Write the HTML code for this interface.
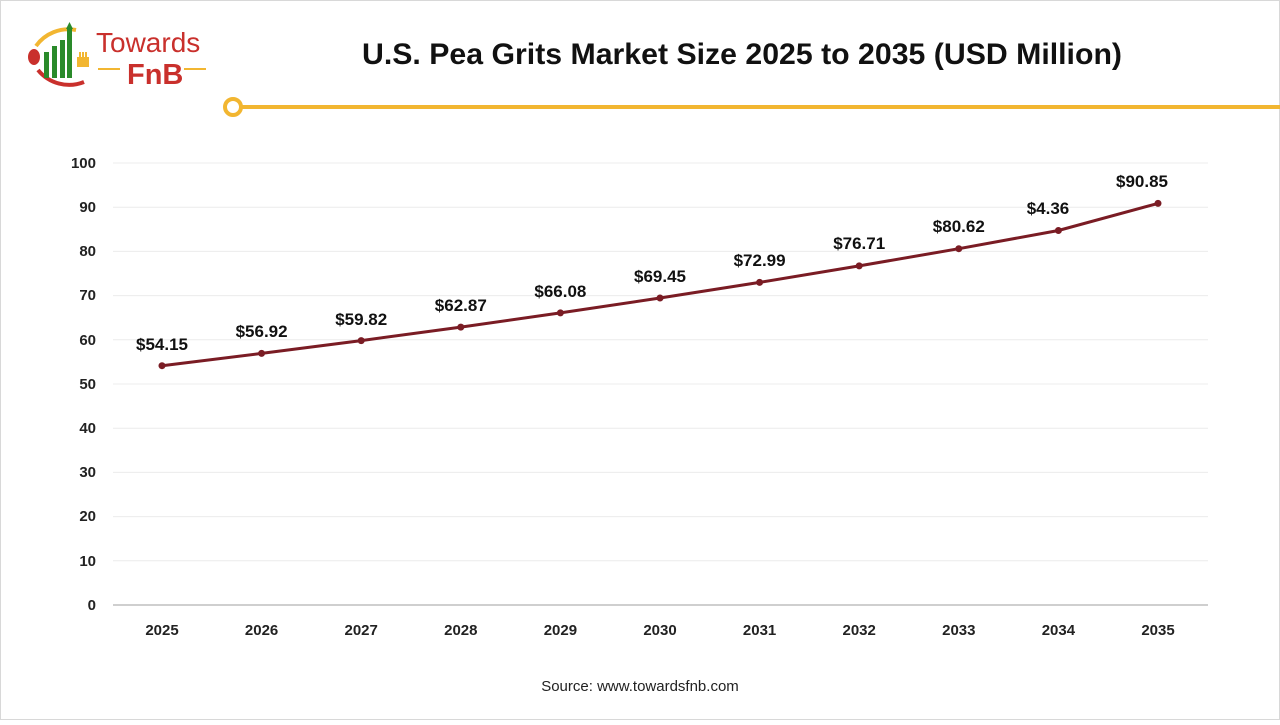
<!DOCTYPE html>
<html><head><meta charset="utf-8"><style>
body{margin:0;width:1280px;height:720px;background:#fff;overflow:hidden;font-family:"Liberation Sans",Arial,sans-serif}
</style></head><body>
<svg width="1280" height="720" viewBox="0 0 1280 720" xmlns="http://www.w3.org/2000/svg" font-family="Liberation Sans, Arial, sans-serif">
<rect x="0.5" y="0.5" width="1279" height="719" fill="#fff" stroke="#d8d8d8"/>
<!-- logo -->
<path d="M38 70 A40 40 0 0 0 84 82" stroke="#c9302c" stroke-width="4" fill="none"/>
<path d="M36 46 A40 40 0 0 1 76 30" stroke="#f2b631" stroke-width="4" fill="none"/>
<ellipse cx="34" cy="57" rx="6" ry="8" fill="#c9302c"/>
<rect x="44" y="52" width="5" height="26" fill="#2a8a2a"/>
<rect x="52" y="46" width="5" height="32" fill="#2a8a2a"/>
<rect x="60" y="40" width="5" height="38" fill="#2a8a2a"/>
<rect x="67" y="28" width="5" height="50" fill="#2a8a2a"/>
<path d="M66 29 L69.5 22 L73 29Z" fill="#2a8a2a"/>
<path d="M78 58 h10 v8 h-10z M80 52 v6 M83 52 v6 M86 52 v6" stroke="#f2b631" stroke-width="2" fill="#f2b631"/>
<text x="96" y="52" font-size="28" fill="#c9302c">Towards</text>
<text x="127" y="84" font-size="29" font-weight="bold" fill="#c9302c">FnB</text>
<line x1="98" y1="69" x2="120" y2="69" stroke="#f2b631" stroke-width="2"/>
<line x1="184" y1="69" x2="206" y2="69" stroke="#f2b631" stroke-width="2"/>
<!-- title -->
<text x="742" y="64" font-size="30" font-weight="bold" text-anchor="middle" fill="#111" textLength="760" lengthAdjust="spacingAndGlyphs">U.S. Pea Grits Market Size 2025 to 2035 (USD Million)</text>
<line x1="242" y1="107" x2="1280" y2="107" stroke="#f2b631" stroke-width="4"/>
<circle cx="233" cy="107" r="8" fill="#fff" stroke="#f2b631" stroke-width="4"/>
<!-- grid -->
<g stroke="#ececec" stroke-width="1">
<line x1="113" y1="163" x2="1208" y2="163"/><line x1="113" y1="207.2" x2="1208" y2="207.2"/>
<line x1="113" y1="251.4" x2="1208" y2="251.4"/><line x1="113" y1="295.6" x2="1208" y2="295.6"/>
<line x1="113" y1="339.8" x2="1208" y2="339.8"/><line x1="113" y1="384" x2="1208" y2="384"/>
<line x1="113" y1="428.2" x2="1208" y2="428.2"/><line x1="113" y1="472.4" x2="1208" y2="472.4"/>
<line x1="113" y1="516.6" x2="1208" y2="516.6"/><line x1="113" y1="560.8" x2="1208" y2="560.8"/>
</g>
<line x1="113" y1="605" x2="1208" y2="605" stroke="#bfbfbf" stroke-width="1.5"/>
<g font-size="15" font-weight="bold" fill="#222" text-anchor="end">
<text x="96" y="168">100</text><text x="96" y="212">90</text><text x="96" y="256">80</text>
<text x="96" y="300">70</text><text x="96" y="345">60</text><text x="96" y="389">50</text>
<text x="96" y="433">40</text><text x="96" y="477">30</text><text x="96" y="521">20</text>
<text x="96" y="566">10</text><text x="96" y="610">0</text>
</g>
<g font-size="15" font-weight="bold" fill="#222" text-anchor="middle">
<text x="162" y="635">2025</text><text x="261.6" y="635">2026</text><text x="361.2" y="635">2027</text>
<text x="460.8" y="635">2028</text><text x="560.4" y="635">2029</text><text x="660" y="635">2030</text>
<text x="759.6" y="635">2031</text><text x="859.2" y="635">2032</text><text x="958.8" y="635">2033</text>
<text x="1058.4" y="635">2034</text><text x="1158" y="635">2035</text>
</g>
<polyline fill="none" stroke="#7a1c24" stroke-width="3" points="162,365.7 261.6,353.4 361.2,340.6 460.8,327.1 560.4,312.9 660,298 759.6,282.4 859.2,265.9 958.8,248.7 1058.4,230.5 1158,203.4"/>
<g fill="#7a1c24">
<circle cx="162" cy="365.7" r="3.5"/><circle cx="261.6" cy="353.4" r="3.5"/><circle cx="361.2" cy="340.6" r="3.5"/>
<circle cx="460.8" cy="327.1" r="3.5"/><circle cx="560.4" cy="312.9" r="3.5"/><circle cx="660" cy="298" r="3.5"/>
<circle cx="759.6" cy="282.4" r="3.5"/><circle cx="859.2" cy="265.9" r="3.5"/><circle cx="958.8" cy="248.7" r="3.5"/>
<circle cx="1058.4" cy="230.5" r="3.5"/><circle cx="1158" cy="203.4" r="3.5"/>
</g>
<g font-size="17" font-weight="bold" fill="#111" text-anchor="middle">
<text x="162" y="350">$54.15</text><text x="261.6" y="337">$56.92</text><text x="361.2" y="325">$59.82</text>
<text x="460.8" y="311">$62.87</text><text x="560.4" y="297">$66.08</text><text x="660" y="282">$69.45</text>
<text x="759.6" y="266">$72.99</text><text x="859.2" y="249">$76.71</text><text x="958.8" y="232">$80.62</text>
<text x="1048" y="214">$4.36</text><text x="1142" y="187">$90.85</text>
</g>
<text x="640" y="691" font-size="15" text-anchor="middle" fill="#222">Source: www.towardsfnb.com</text>
</svg>
</body></html>
